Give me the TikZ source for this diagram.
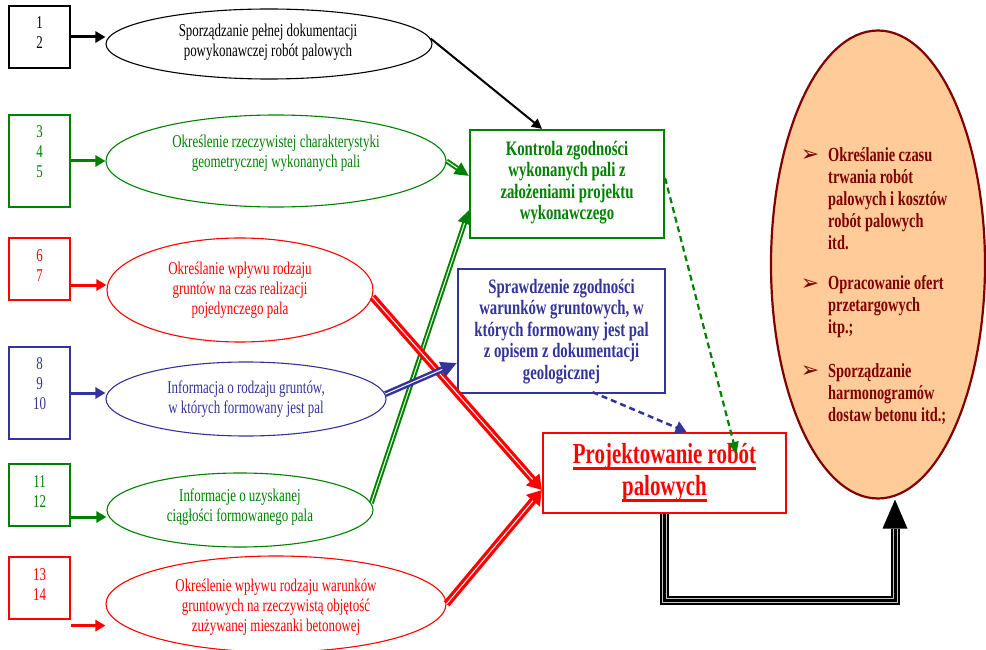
\documentclass[tikz,border=0pt]{standalone}
\usepackage{fontspec}
\setmainfont{Liberation Serif}[FakeStretch=0.72]
\newfontfamily\dvs{DejaVu Sans}
\usetikzlibrary{shapes.geometric,arrows.meta,calc}
\definecolor{cgreen}{RGB}{0,128,0}
\definecolor{cblue}{RGB}{51,51,153}
\definecolor{cred}{RGB}{255,0,0}
\definecolor{cdred}{RGB}{128,0,0}
\definecolor{cpeach}{RGB}{255,204,153}
\newsavebox\pulbox
\newcommand\pul[1]{\sbox\pulbox{#1}\rlap{\rule[-6pt]{\wd\pulbox}{2.5pt}}\usebox\pulbox}
% color, outer width, inner width, head length, head width, start, end
\newcommand\dblarr[7]{%
  \draw[#1, line width=#2, -{Triangle[length=#4,width=#5]}] #6 -- #7;
  \draw[white, line width=#3, shorten >=#4] #6 -- #7;}
\tikzset{
  numbox/.style={draw, line width=1.2pt, minimum width=61pt, minimum height=62pt, inner sep=0pt},
  ell/.style={ellipse, draw, line width=1.1pt, inner sep=0pt},
  etext/.style={align=center, font=\fontsize{18}{20}\selectfont, inner sep=0pt},
  ntext/.style={align=center, font=\fontsize{18}{20}\selectfont, inner sep=0pt},
  btext/.style={align=center, font=\bfseries\fontsize{20.5}{21.5}\selectfont, inner sep=0pt},
  ptext/.style={align=center, font=\bfseries\fontsize{29}{32}\selectfont, inner sep=0pt, text=cred},
  rtext/.style={align=left, font=\bfseries\fontsize{20}{22}\selectfont, inner sep=0pt, text=cdred},
  bul/.style={font=\dvs\fontsize{22}{22}\selectfont, inner sep=0pt, text=cdred},
  bigbox/.style={draw, line width=2.2pt, inner sep=0pt},
  inarr/.style={line width=3pt, -{Triangle[length=10pt,width=11pt]}},
}
\begin{document}
\begin{tikzpicture}[x=1pt,y=-1pt]
\useasboundingbox (0,0) rectangle (986,650);
\clip (0,0) rectangle (986,650);

% number boxes
\node[numbox, draw=black] (n1) at (39.5,37) {};
\node[numbox, draw=cgreen, minimum height=92pt] (n2) at (39.5,161) {};
\node[numbox, draw=cred] (n3) at (39.5,269) {};
\node[numbox, draw=cblue, minimum height=92pt] (n4) at (39.5,393) {};
\node[numbox, draw=cgreen] (n5) at (39.5,495) {};
\node[numbox, draw=cred] (n6) at (39.5,588) {};
\node[ntext, text=black] (t1) at (39.5,33) {1\\2};
\node[ntext, text=cgreen] (t2) at (39.5,152) {3\\4\\5};
\node[ntext, text=cred] (t3) at (39.5,266) {6\\7};
\node[ntext, text=cblue] (t4) at (39.5,384) {8\\9\\10};
\node[ntext, text=cgreen] (t5) at (39.5,492) {11\\12};
\node[ntext, text=cred] (t6) at (39.5,585) {13\\14};

% ellipses
\node[ell, draw=black, minimum width=326pt, minimum height=70pt] (e1) at (269,44) {};
\node[ell, draw=cgreen, minimum width=340pt, minimum height=92pt] (e2) at (276,161) {};
\node[ell, draw=cred, minimum width=266pt, minimum height=104pt] (e3) at (240,290) {};
\node[ell, draw=cblue, minimum width=280pt, minimum height=74pt] (e4) at (246,399) {};
\node[ell, draw=cgreen, minimum width=266pt, minimum height=74pt] (e5) at (240,510) {};
\node[ell, draw=cred, minimum width=340pt, minimum height=96pt] (e6) at (276,604) {};
\node[etext, text=black] (l1) at (268,42.5) {Sporządzanie pełnej dokumentacji\\powykonawczej robót palowych};
\node[etext, text=cgreen] (l2) at (276,153) {Określenie rzeczywistej charakterystyki\\geometrycznej wykonanych pali};
\node[etext, text=cred] (l3) at (240,290) {Określanie wpływu rodzaju\\gruntów na czas realizacji\\pojedynczego pala};
\node[etext, text=cblue] (l4) at (246,399) {Informacja o rodzaju gruntów,\\ w których formowany jest pal};
\node[etext, text=cgreen] (l5) at (240,507.5) {Informacje o uzyskanej\\ciągłości formowanego pala};
\node[etext, text=cred] (l6) at (276,607.5) {Określenie wpływu rodzaju warunków\\gruntowych na rzeczywistą objętość\\zużywanej mieszanki betonowej};

% middle boxes
\node[bigbox, draw=cgreen, minimum width=194pt, minimum height=108pt] (k) at (567,184) {};
\node[btext, text=cgreen] (kt) at (567,182.5) {Kontrola zgodności\\wykonanych pali z\\założeniami projektu\\wykonawczego};
\node[bigbox, draw=cblue, minimum width=207pt, minimum height=124pt] (b) at (561.5,331) {};
\node[btext, text=cblue] (bt) at (561.5,331.5) {Sprawdzenie zgodności\\warunków gruntowych, w\\których formowany jest pal\\z opisem z dokumentacji\\geologicznej};
\node[bigbox, draw=cred, minimum width=243pt, minimum height=80pt] (p) at (664.5,473) {};
\node[ptext] (pt) at (664.5,473) {\pul{Projektowanie robót}\\\pul{palowych}};

% right ellipse
\node[ellipse, draw=cdred, fill=cpeach, line width=2.2pt, inner sep=0pt, minimum width=214pt, minimum height=468pt] (r) at (878,264.5) {};
\node[rtext, anchor=west] (r1) at (828,199) {Określanie czasu\\trwania robót\\palowych i kosztów\\robót palowych\\itd.};
\node[rtext, anchor=west] (r2) at (828,307) {Opracowanie ofert\\przetargowych\\itp.;};
\node[rtext, anchor=west] (r3) at (828,394.5) {Sporządzanie\\harmonogramów\\dostaw betonu itd.;};
\node[bul] (u1) at (810,156) {➢};
\node[bul] (u2) at (810,285) {➢};
\node[bul] (u3) at (810,372) {➢};

% input arrows
\coordinate (a3) at ($(n3.east)+(0,16)$);
\coordinate (a5) at ($(n5.east)+(0,22)$);
\coordinate (a6) at ($(n6.south east)+(0,6)$);
\draw[inarr, black] (n1.east) -- (n1.east -| e1.west);
\draw[inarr, cgreen] (n2.east) -- (n2.east -| e2.west);
\draw[inarr, cred] (a3) -- (a3 -| e3.west);
\draw[inarr, cblue] (n4.east) -- (n4.east -| e4.west);
\draw[inarr, cgreen] (a5) -- (a5 -| e5.west);
\draw[inarr, cred] (a6) -- (a6 -| e6.west);

% connectors to middle boxes
\draw[black, line width=2pt, -{Triangle[length=10pt,width=10pt]}] (e1.2) -- ($(k.north)+(-25,0)$);
\dblarr{cgreen}{5pt}{1pt}{14pt}{13pt}{(e2.east)}{($(k.west)+(0,-8)$)}
\dblarr{cgreen}{5pt}{1pt}{14pt}{13pt}{(e5.3)}{($(k.west)+(0,26)$)}
\dblarr{cred}{7.5pt}{1pt}{14pt}{17pt}{(e3.-3)}{($(p.west)+(0,17)$)}
\dblarr{cred}{7.5pt}{1pt}{14pt}{17pt}{(e6.east)}{($(p.west)+(0,17)$)}
\dblarr{cblue}{6pt}{1pt}{16pt}{15pt}{(e4.2)}{($(b.west)+(0,32)$)}

% dashed connectors
\draw[cblue, line width=2.5pt, dash pattern=on 6pt off 4pt, -{Triangle[length=11pt,width=13pt]}] ($(b.south)+(31,-2)$) -- ($(p.north)+(22,0)$);
\draw[cgreen, line width=2.2pt, dash pattern=on 6pt off 4pt, -{Triangle[length=12pt,width=10pt]}] ($(k.east)+(0,-6)$) -- ($(p.north)+(72,22)$);

% triple black connector
\coordinate (rtip) at ($(r.south)+(17,0)$);
\coordinate (rbase) at ($(r.south)+(17,29)$);
\coordinate (rlow) at ($(rbase)+(0,72)$);
\draw[black, line width=9pt] (p.south) |- (rlow) -- (rbase);
\draw[gray!45, line width=5pt] (p.south) |- (rlow) -- (rbase);
\draw[black, line width=3pt] (p.south) |- (rlow) -- (rbase);
\fill[black] ($(rbase)+(-12.5,0)$) -- (rtip) -- ($(rbase)+(12.5,0)$) -- cycle;
\end{tikzpicture}
\end{document}
